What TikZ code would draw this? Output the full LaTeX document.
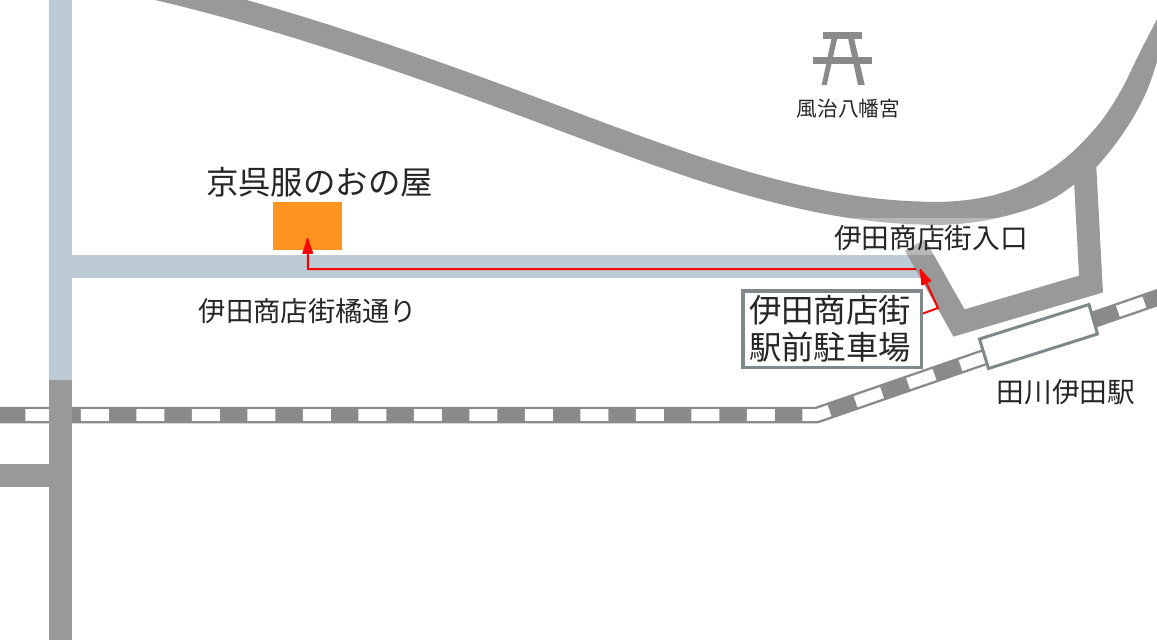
\documentclass[tikz,border=0pt]{standalone}
\usepackage{fontspec}
\setmainfont{Noto Sans CJK JP}
\usetikzlibrary{arrows.meta}
\definecolor{roadgray}{HTML}{999999}
\definecolor{roadblue}{HTML}{BCCBD6}
\definecolor{raildark}{HTML}{8A8A8A}
\definecolor{boxgray}{HTML}{7F888B}
\definecolor{shopor}{HTML}{FF9420}
\tikzset{
  road/.style={line width=23pt,draw=roadgray,line join=miter},
  blueroad/.style={line width=23pt,draw=roadblue},
  railbed/.style={line width=16.5pt,draw=raildark,line join=miter},
  railgap/.style={line width=11.7pt,draw=white,dash pattern=on 28pt off 27.5pt,dash phase=30.2pt,line join=round},
  lab/.style={inner sep=0pt,text=black!85,anchor=center},
  route/.style={draw=red,line width=2pt},
  routetip/.style={-{Latex[length=20pt,width=12pt,round=false]}},
  bench/.style={fill=raildark,draw=none}
}
\begin{document}
\begin{tikzpicture}[x=1pt,y=-1pt]
\useasboundingbox (0,0) rectangle (1157,640);
\fill[white] (0,0) rectangle (1157,640);
% rail
\coordinate (r0) at (0,415);
\coordinate (r1) at (817,415);
\coordinate (r2) at (1165,295);
\draw[railbed] (r0) -- (r1) -- (r2);
\draw[railgap] (r0) -- (r1) -- (r2);
% roads
\draw[blueroad] (60.5,0) -- (60.5,380);
\draw[blueroad] (72,266.5) -- (925,266.5);
\draw[road] (60.5,380) -- (60.5,640);
\draw[road] (0,475.5) -- (49,475.5);
\draw[road] (1084.4,160) -- (1091,284) -- (959,323) -- (915,245);
\draw[road] (150,-13) .. controls (293,20) and (437,72) .. (580,126)
  .. controls (693,168) and (807,210) .. (920,213)
  .. controls (947,214.5) and (975,212) .. (1001,205.2);
\fill[roadgray,draw=roadgray,line width=.3pt] (998,194) .. controls (1023,187.5) and (1047,174) .. (1067,157)
  .. controls (1079,147) and (1090,135) .. (1100,123)
  .. controls (1113,106) and (1124,87) .. (1133,67)
  .. controls (1141,50) and (1149,35) .. (1159,16)
  -- (1159,54) .. controls (1155,68) and (1151,80) .. (1147,90)
  .. controls (1140,106) and (1132,120) .. (1123,133)
  .. controls (1115,145) and (1106,156) .. (1097,166)
  .. controls (1090,173) and (1081,179) .. (1073,185)
  .. controls (1065,191) and (1058,196) .. (1050,200)
  .. controls (1035,208) and (1020,212) .. (1004,216.3) -- cycle;
% lightened ground behind entrance label
\fill[white,opacity=.3] (832,218) rectangle (1030,255);
% label texts
\node[lab,font=\fontsize{32.4}{32.4}\selectfont] (shoplab) at (319.5,182) {京呉服のおの屋};
\node[lab,font=\fontsize{27.3}{27.3}\selectfont] (streetlab) at (308,311) {伊田商店街橘通り};
\node[lab,font=\fontsize{27.7}{27.7}\selectfont] (entrylab) at (931,238) {伊田商店街入口};
\node[lab,font=\fontsize{27.7}{27.7}\selectfont] (stnlab) at (1066,392) {田川伊田駅};
\node[lab,font=\fontsize{20.7}{20.7}\selectfont] (shrinelab) at (848.5,109) {風治八幡宮};
% shop
\node[fill=shopor,draw=none,minimum width=69pt,minimum height=48pt,inner sep=0pt] (shop) at (307.5,226) {};
% station
\draw[boxgray,fill=white,line width=3pt,line join=miter] (979.5,339) -- (1089,304.5) -- (1097.5,334) -- (988.5,368.5) -- cycle;
% parking
\node[draw=boxgray,fill=white,line width=3.5pt,minimum width=178.5pt,minimum height=76.5pt,inner sep=0pt,align=center,text=black!85,font=\fontsize{32.4}{37}\selectfont] (park) at (832,329) {\hspace*{-4pt}伊田商店街\\\hspace*{-4pt}駅前駐車場};
% route
\coordinate (bend1) at (938,308);
\coordinate (tip1) at (920,269);
\coordinate (join) at (916,269);
\coordinate (bend2) at (308,269);
\draw[route,routetip] (park.east |- 0,313.5) -- (bend1) -- (tip1);
\draw[route,routetip] (join) -- (bend2) -- (shop.center |- 0,238);
% bench icon
\fill[bench] (823,32) rectangle (862,38.5);
\fill[bench] (813,57) rectangle (872,64);
\fill[bench] (831.7,38) -- (837.3,38) -- (826.7,85) -- (821.7,85) -- cycle;
\fill[bench] (848,38) -- (854,38) -- (864.7,85) -- (858,85) -- cycle;
\end{tikzpicture}
\end{document}
